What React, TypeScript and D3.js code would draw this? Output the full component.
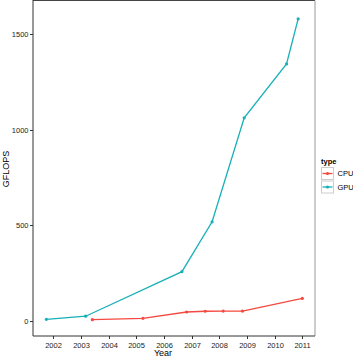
import { useEffect, useRef } from 'react';
import * as d3 from 'd3';

// GFLOPS over time (fractional years)
const cpuYears = [2003.41, 2005.24, 2006.82, 2007.49, 2008.14, 2008.84, 2011.0];
const cpuGflops = [7, 14, 47, 51, 52, 52, 118];
const gpuYears = [2001.75, 2003.17, 2006.65, 2007.74, 2008.9, 2010.43, 2010.85];
const gpuGflops = [9, 25, 258, 519, 1063, 1345, 1581];

const xTicks = [2002, 2003, 2004, 2005, 2006, 2007, 2008, 2009, 2010, 2011];
const yTicks = [0, 500, 1000, 1500];
const seriesNames = ['CPU', 'GPU'];
const seriesColors = ['#F4493F', '#17B0B7'];

const App = () => {
  const svgRef = useRef<SVGSVGElement>(null);
  const width = 353;
  const height = 357;

  useEffect(() => {
    if (!svgRef.current) return;
    const root = d3.select(svgRef.current);
    root.selectAll('*').remove();

    const panel = { left: 33, right: 315, top: 0.5, bottom: 336 };
    const font = '"Liberation Sans", Arial, Helvetica, sans-serif';

    const xScale = d3.scaleLinear().domain([2002, 2011]).range([53.3, 302.3]);
    const yScale = d3.scaleLinear().domain([0, 1500]).range([321, 34.3]);

    const series = [
      { name: 'CPU', color: seriesColors[0], pts: cpuYears.map((x, i) => [x, cpuGflops[i]]) },
      { name: 'GPU', color: seriesColors[1], pts: gpuYears.map((x, i) => [x, gpuGflops[i]]) },
    ];

    // panel background + border
    root.append('rect')
      .attr('x', panel.left).attr('y', panel.top)
      .attr('width', panel.right - panel.left).attr('height', panel.bottom - panel.top)
      .attr('fill', '#fff');

    const line = d3.line<number[]>()
      .x(d => xScale(d[0]))
      .y(d => yScale(d[1]));

    series.forEach(s => {
      root.append('path')
        .attr('d', line(s.pts))
        .attr('fill', 'none')
        .attr('stroke', s.color)
        .attr('stroke-width', 1.3);
      root.append('g')
        .selectAll('circle')
        .data(s.pts)
        .join('circle')
        .attr('cx', d => xScale(d[0]))
        .attr('cy', d => yScale(d[1]))
        .attr('r', 1.6)
        .attr('fill', s.color);
    });

    // border lines
    root.append('line').attr('x1', panel.left).attr('x2', panel.right)
      .attr('y1', panel.top).attr('y2', panel.top).attr('stroke', '#444').attr('stroke-width', 1);
    root.append('line').attr('x1', panel.right).attr('x2', panel.right)
      .attr('y1', panel.top).attr('y2', panel.bottom).attr('stroke', '#999').attr('stroke-width', 1);
    root.append('line').attr('x1', panel.left).attr('x2', panel.left)
      .attr('y1', 0).attr('y2', panel.bottom).attr('stroke', '#333').attr('stroke-width', 1);
    root.append('line').attr('x1', panel.left).attr('x2', panel.right)
      .attr('y1', panel.bottom).attr('y2', panel.bottom).attr('stroke', '#333').attr('stroke-width', 1);

    // y axis
    const yAxis = root.append('g');
    yTicks.forEach(t => {
      const y = Math.round(yScale(t)) + 0.5;
      yAxis.append('line').attr('x1', panel.left - 3).attr('x2', panel.left)
        .attr('y1', y).attr('y2', y).attr('stroke', '#333');
      yAxis.append('text').attr('x', panel.left - 4.5).attr('y', y + 2.7)
        .attr('text-anchor', 'end').attr('font-family', font).attr('font-size', 7.5)
        .attr('fill', '#222').text(String(t));
    });

    // x axis
    const xAxis = root.append('g');
    xTicks.forEach(t => {
      const x = Math.round(xScale(t)) + 0.5;
      xAxis.append('line').attr('x1', x).attr('x2', x)
        .attr('y1', panel.bottom).attr('y2', panel.bottom + 3).attr('stroke', '#333');
      xAxis.append('text').attr('x', x).attr('y', 347.5)
        .attr('text-anchor', 'middle').attr('font-family', font).attr('font-size', 7.5)
        .attr('fill', '#222').text(String(t));
    });

    // axis titles
    root.append('text').attr('x', 163).attr('y', 356)
      .attr('text-anchor', 'middle').attr('font-family', font).attr('font-size', 9)
      .attr('fill', '#000').text('Year');
    root.append('text')
      .attr('transform', 'translate(9, 169) rotate(-90)')
      .attr('text-anchor', 'middle').attr('font-family', font).attr('font-size', 9)
      .attr('fill', '#000').text('GFLOPS');

    // legend
    const legend = root.append('g').attr('transform', 'translate(321, 0)');
    legend.append('text').attr('x', 0).attr('y', 163.5)
      .attr('font-family', font).attr('font-size', 7.5).attr('font-weight', 'bold')
      .attr('fill', '#000').text('type');
    seriesNames.forEach((name, i) => {
      const top = 167 + i * 13.5;
      legend.append('rect').attr('x', 0.5).attr('y', top + 0.5)
        .attr('width', 12).attr('height', 12)
        .attr('fill', '#fff').attr('stroke', '#ccc');
      legend.append('line').attr('x1', 1.5).attr('x2', 11.5)
        .attr('y1', top + 6.5).attr('y2', top + 6.5)
        .attr('stroke', seriesColors[i]).attr('stroke-width', 1.3);
      legend.append('circle').attr('cx', 6.5).attr('cy', top + 6.5).attr('r', 1.6)
        .attr('fill', seriesColors[i]);
      legend.append('text').attr('x', 16.5).attr('y', top + 9.3)
        .attr('font-family', font).attr('font-size', 7.5)
        .attr('fill', '#000').text(name);
    });
  }, []);

  return (
    <svg
      ref={svgRef}
      width={width}
      height={height}
      style={{ position: 'absolute', left: 0, top: 0, background: '#fff' }}
    />
  );
};

export default App;
